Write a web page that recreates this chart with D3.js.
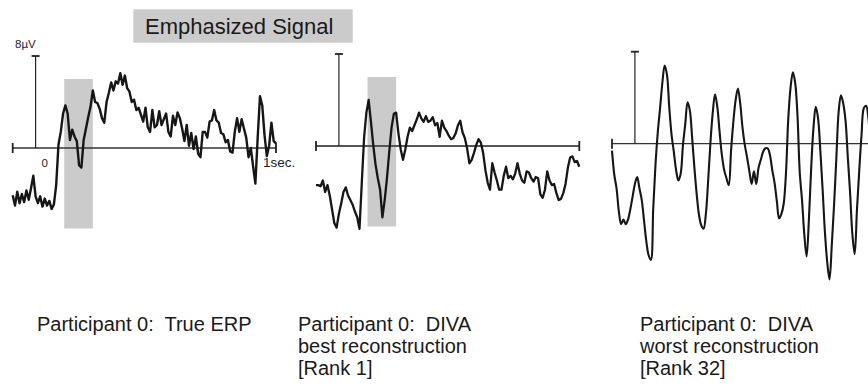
<!DOCTYPE html>
<html>
<head>
<meta charset="utf-8">
<script src="https://cdn.jsdelivr.net/npm/d3@7"></script>
<style>
  html, body { margin: 0; padding: 0; background: #fff; }
  svg { display: block; }
  text { font-family: "Liberation Sans", Arial, Helvetica, sans-serif; white-space: pre; }
</style>
</head>
<body>
<svg id="chart" width="868" height="386"></svg>
<script>
// Sample times in ms (10 ms steps) shared by all three traces
const timeMs = d3.range(-100, 1051, 10);

// Amplitudes in µV, one per sample time
const trueErp = [
  -4.1, -5.0, -3.8, -4.8, -4.0, -4.7, -3.7, -4.5, -3.5, -2.4,
  -4.2, -4.8, -4.2, -5.1, -4.4, -5.0, -4.6, -5.3, -4.9, -3.2,
   0.3,  1.4,  3.0,  3.7,  3.0,  0.7,  1.6,  1.0,  0.6, -1.5,
  -1.7,  0.7,  1.7,  2.7,  3.6,  5.0,  4.0,  3.9,  3.4,  2.6,
   2.2,  4.0,  4.8,  5.7,  5.0,  5.8,  5.6,  6.5,  5.5,  6.3,
   5.2,  4.9,  4.0,  4.2,  3.3,  3.5,  2.9,  2.3,  3.5,  1.8,
   1.4,  3.3,  1.8,  2.0,  3.2,  2.0,  2.5,  3.0,  1.4,  1.0,
   2.8,  2.0,  3.1,  2.6,  1.7,  0.6,  2.0,  0.2,  1.3, -0.1,
   1.0, -0.5, -0.8,  1.4,  1.4,  0.9,  2.3,  2.4,  3.3,  2.4,
   2.2,  1.3,  1.2,  0.5,  0.7, -0.3, -0.4,  1.4,  2.6,  1.4,
   2.5,  1.7,  0.9, -0.8,  0.0, -1.6, -3.1,  0.9,  4.5,  3.7,
   1.1, -0.7,  0.2,  2.2,  0.6,  0.4
];

const bestReconstruction = [
  -3.4, -3.4, -3.5, -3.0, -4.0, -3.4, -4.3, -5.5, -6.7, -7.1,
  -5.9, -5.0, -4.0, -3.6, -4.3, -4.7, -5.1, -5.7, -6.2, -7.2,
  -3.2,  0.7,  2.9,  4.0,  2.1,  0.1, -1.6, -2.8, -3.8, -6.2,
  -4.7, -2.8, -0.5,  1.6,  2.8,  2.9,  1.1, -0.3, -1.2, -0.3,
   0.8,  1.6,  1.3,  1.8,  2.3,  2.9,  2.4,  2.1,  2.6,  2.1,
   2.2,  2.5,  1.8,  2.0,  0.8,  2.2,  1.6,  1.3,  0.9,  0.6,
   0.7,  1.1,  1.8,  2.2,  1.2,  0.7, -0.2, -1.5, -1.2, -0.6,
   0.1,  0.6,  0.3, -0.6, -2.1, -3.2, -3.8, -1.5, -2.3, -3.0,
  -3.8, -3.8, -2.6, -1.8, -2.8, -2.6, -2.9, -2.4, -1.5, -2.4,
  -3.0, -3.2, -2.2, -2.3, -2.8, -3.1, -2.7, -2.8, -4.2, -4.5,
  -3.8, -2.2, -3.0, -3.4, -3.3, -4.1, -4.7, -4.6, -4.1, -3.3,
  -1.9, -1.0, -0.9, -1.4, -1.3, -1.8
];

const worstReconstruction = [
  -0.6, -2.7, -3.9, -5.9, -7.0, -6.6, -7.0, -6.6, -5.7, -4.6,
  -3.5, -2.9, -3.9, -4.9, -6.7, -8.5, -9.7, -10.1, -5.7, -1.8,
   1.0,  3.1,  5.3,  6.8,  6.0,  3.2,  0.8, -0.7, -2.3, -3.2,
  -2.6, -0.1,  1.7,  3.6,  2.9,  0.5, -2.1, -4.4, -6.2, -7.1,
  -7.4, -6.1, -3.2,  0.1,  2.7,  4.3,  3.2,  1.0, -1.0, -2.3,
  -3.0, -3.6, -0.6,  1.9,  3.8,  4.8,  3.5,  1.4, -0.1, -1.2,
  -2.4, -3.5, -2.4, -3.5, -2.1, -1.4, -0.7, -0.4, -0.4, -1.0,
  -2.3, -3.4, -5.0, -6.5, -6.1, -5.2, -2.5,  2.2,  4.9,  6.2,
   5.3,  2.5, -2.5, -4.9, -7.9, -9.8, -6.6, -2.1,  1.4,  3.2,
   2.2, -0.6, -4.0, -7.7, -10.3, -11.8, -8.8, -5.3, -1.2, 2.8,
   4.2,  3.5,  2.0, -1.2, -4.3, -7.9, -9.6, -5.7, -2.3,  0.8,
   3.1,  3.3,  2.2, -0.6, -3.6, -5.8
];

// Highlighted latency window (ms) and its vertical extent (µV)
const emphasisWindowMs = [125, 250];
const emphasisRangeUv = [-7, 6];

// Scale bar and axis annotations
const scaleBarUv = 8;
const scaleBarLabel = "8µV";
const zeroLabel = "0";
const oneSecondLabel = "1sec.";
const emphasisLabel = "Emphasized Signal";

const panelCaptions = [
  ["Participant 0:  True ERP"],
  ["Participant 0:  DIVA", "best reconstruction", "[Rank 1]"],
  ["Participant 0:  DIVA", "worst reconstruction", "[Rank 32]"]
];

// ---- layout ----
const svg = d3.select("#chart");
svg.append("rect").attr("width", 868).attr("height", 386).attr("fill", "#fff");

const axisSpanPx = 263.3;   // width of each time axis
const barHeightPx = 92;     // height of the 8 µV scale bar

const panels = [
  { values: trueErp, left: 12.7, zeroY: 148, emphasize: true, traceWidth: 2.4,
    axisColor: "#333", axisWidth: 1.6, curve: d3.curveLinear, captionX: 37 },
  { values: bestReconstruction, left: 316, zeroY: 146, emphasize: true, traceWidth: 2.3,
    axisColor: "#555", axisWidth: 2.2, curve: d3.curveLinear, captionX: 298 },
  { values: worstReconstruction, left: 612, zeroY: 143.7, emphasize: false, traceWidth: 2.1,
    axisColor: "#333", axisWidth: 1.3, curve: d3.curveCatmullRom.alpha(0.5), captionX: 640 }
];

panels.forEach((p, i) => {
  const x = d3.scaleLinear().domain([-100, 1050]).range([p.left, p.left + axisSpanPx]);
  const y = d3.scaleLinear().domain([0, scaleBarUv]).range([p.zeroY, p.zeroY - barHeightPx]);
  const g = svg.append("g").attr("class", "panel");

  // highlighted window
  if (p.emphasize) {
    g.append("rect")
      .attr("x", x(emphasisWindowMs[0]))
      .attr("y", y(emphasisRangeUv[1]))
      .attr("width", x(emphasisWindowMs[1]) - x(emphasisWindowMs[0]))
      .attr("height", y(emphasisRangeUv[0]) - y(emphasisRangeUv[1]))
      .attr("fill", "#cbcbcb");
  }

  // time axis with end caps
  const [t0, t1] = x.domain();
  g.append("line")
    .attr("x1", x(t0)).attr("x2", x(t1))
    .attr("y1", y(0)).attr("y2", y(0))
    .attr("stroke", p.axisColor).attr("stroke-width", p.axisWidth);
  [t0, t1].forEach(t => {
    g.append("line")
      .attr("x1", x(t)).attr("x2", x(t))
      .attr("y1", y(0) - 5).attr("y2", y(0) + 5)
      .attr("stroke", "#222").attr("stroke-width", 1.8);
  });

  // amplitude scale bar at stimulus onset
  g.append("line")
    .attr("x1", x(0)).attr("x2", x(0))
    .attr("y1", y(0)).attr("y2", y(scaleBarUv))
    .attr("stroke", "#222").attr("stroke-width", 1.2);
  g.append("line")
    .attr("x1", x(0) - 4).attr("x2", x(0) + 4)
    .attr("y1", y(scaleBarUv)).attr("y2", y(scaleBarUv))
    .attr("stroke", "#222").attr("stroke-width", 1.8);

  // waveform
  const line = d3.line()
    .x((d, k) => x(timeMs[k]))
    .y(d => y(d))
    .curve(p.curve);
  g.append("path")
    .datum(p.values)
    .attr("d", line)
    .attr("fill", "none")
    .attr("stroke", "#161616")
    .attr("stroke-width", p.traceWidth)
    .attr("stroke-linejoin", "round");

  if (i === 0) {
    g.append("text").attr("x", x(0) - 20.5).attr("y", y(scaleBarUv) - 8.5)
      .attr("font-size", 11.5).attr("fill", "#222").text(scaleBarLabel);
    g.append("text").attr("x", x(0) + 6).attr("y", y(0) + 19)
      .attr("font-size", 11.5).attr("fill", "#222").text(zeroLabel);
    g.append("text").attr("x", x(1000) - 1.5).attr("y", y(0) + 19)
      .attr("font-size", 13.5).attr("fill", "#222").text(oneSecondLabel);
  }

  // caption beneath the panel
  const cap = svg.append("text")
    .attr("x", p.captionX).attr("y", 331)
    .attr("font-size", 20).attr("fill", "#1a1a1a");
  panelCaptions[i].forEach((s, k) => {
    cap.append("tspan").attr("x", p.captionX).attr("dy", k === 0 ? 0 : 22).text(s);
  });
});

// label box over the highlighted windows
svg.append("rect")
  .attr("x", 133.3).attr("y", 9.3).attr("width", 219.4).attr("height", 33.4)
  .attr("fill", "#cbcbcb");
svg.append("text")
  .attr("x", 145).attr("y", 33.5)
  .attr("font-size", 22).attr("fill", "#1a1a1a")
  .text(emphasisLabel);
</script>
</body>
</html>
